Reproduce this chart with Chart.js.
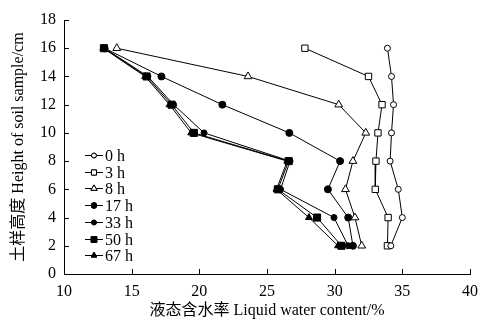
<!DOCTYPE html>
<html lang="zh-CN">
<head>
<meta charset="UTF-8">
<title>土样液态含水率剖面</title>
<script src="https://cdn.jsdelivr.net/npm/chart.js"></script>
<style>
    html, body { margin: 0; padding: 0; background: #fff; }
    #wrap { width: 486px; height: 323px; }
</style>
</head>
<body>
<div id="wrap"><canvas id="profileChart"></canvas></div>
<script>
    // Heights of soil sample (cm), top to bottom
    const heights = [16, 14, 12, 10, 8, 6, 4, 2];

    // Liquid water content (%) for each freezing time
    const wc0h  = [33.9, 34.2, 34.35, 34.2, 34.1, 34.7, 35.0, 34.15];
    const wc3h  = [27.8, 32.5, 33.5, 33.2, 33.05, 33.0, 33.95, 33.9];
    const wc8h  = [13.9, 23.6, 30.3, 32.3, 31.35, 30.8, 31.5, 32.0];
    const wc17h = [13.0, 17.2, 21.7, 26.65, 30.4, 29.5, 31.0, 31.35];
    const wc33h = [13.0, 16.2, 18.1, 20.35, 26.7, 26.0, 29.95, 31.0];
    const wc50h = [12.95, 16.1, 17.95, 19.6, 26.6, 25.8, 28.7, 30.5];
    const wc67h = [12.9, 16.0, 17.8, 19.4, 26.5, 25.7, 28.1, 30.25];

    const seriesLabels = ['0 h', '3 h', '8 h', '17 h', '33 h', '50 h', '67 h'];
    const xTicks = [10, 15, 20, 25, 30, 35, 40];
    const yTicks = [0, 2, 4, 6, 8, 10, 12, 14, 16, 18];

    const serif = '"Liberation Serif", "Times New Roman", "Noto Sans CJK SC", serif';

    // marker styles: [pointStyle, radius, filled]
    const markers = [
        ['circle', 3, false],
        ['rect', 4.5, false],
        ['triangle', 4.5, false],
        ['circle', 3.5, true],
        ['circle', 3, true],
        ['rect', 5, true],
        ['triangle', 4, true]
    ];

    const allSeries = [wc0h, wc3h, wc8h, wc17h, wc33h, wc50h, wc67h];

    const datasets = allSeries.map((vals, i) => ({
        label: seriesLabels[i],
        data: heights.map((h, k) => ({ x: vals[k], y: h })),
        showLine: true,
        borderColor: '#000',
        borderWidth: 1,
        pointStyle: markers[i][0],
        pointRadius: markers[i][1],
        pointBorderWidth: 1,
        pointBorderColor: '#000',
        pointBackgroundColor: markers[i][2] ? '#000' : '#fff'
    }));

    // inward tick marks on both axes
    const inwardTicks = {
        id: 'inwardTicks',
        afterDraw(chart) {
            const { ctx, scales: { x, y }, chartArea } = chart;
            ctx.save();
            ctx.strokeStyle = '#000';
            ctx.lineWidth = 1;
            ctx.beginPath();
            xTicks.forEach(v => {
                const px = Math.round(x.getPixelForValue(v)) + 0.5;
                ctx.moveTo(px, chartArea.bottom);
                ctx.lineTo(px, chartArea.bottom - 5);
            });
            yTicks.forEach(v => {
                const py = Math.round(y.getPixelForValue(v)) + 0.5;
                ctx.moveTo(chartArea.left, py);
                ctx.lineTo(chartArea.left + 5, py);
            });
            ctx.stroke();
            ctx.restore();
        }
    };

    // legend inside plot: short line + marker + label
    const innerLegend = {
        id: 'innerLegend',
        afterDraw(chart) {
            const { ctx } = chart;
            const x0 = 85, x1 = 103, top = 155, step = 16.7;
            ctx.save();
            ctx.font = '16px ' + serif;
            ctx.textBaseline = 'middle';
            ctx.fillStyle = '#000';
            chart.data.datasets.forEach((ds, i) => {
                const yy = Math.round(top + i * step) + 0.5;
                ctx.strokeStyle = '#000';
                ctx.lineWidth = 1;
                ctx.beginPath();
                ctx.moveTo(x0, yy);
                ctx.lineTo(x1, yy);
                ctx.stroke();
                Chart.helpers.drawPoint(ctx, {
                    pointStyle: ds.pointStyle,
                    radius: ds.pointRadius * 0.8,
                    borderWidth: 1,
                    rotation: 0
                }, (x0 + x1) / 2, yy);
                ctx.fillStyle = ds.pointBackgroundColor;
                ctx.fill();
                ctx.stroke();
                ctx.fillStyle = '#000';
                ctx.fillText(ds.label, x1 + 2, yy + 1);
            });
            ctx.restore();
        }
    };

    new Chart(document.getElementById('profileChart'), {
        type: 'scatter',
        data: { datasets },
        options: {
            responsive: true,
            maintainAspectRatio: false,
            animation: false,
            layout: { padding: { top: 20, right: 13, left: 0, bottom: 0 } },
            plugins: {
                legend: { display: false },
                tooltip: { enabled: false }
            },
            scales: {
                x: {
                    type: 'linear',
                    min: 10,
                    max: 40,
                    afterBuildTicks: s => { s.ticks = xTicks.map(v => ({ value: v })); },
                    afterFit: s => { s.height = 49; },
                    grid: { display: true, drawOnChartArea: false, drawTicks: false, color: '#000' },
                    border: { display: true, color: '#000', width: 1 },
                    ticks: { color: '#000', padding: 8, font: { family: serif, size: 16 } },
                    title: {
                        display: true,
                        text: '液态含水率 Liquid water content/%',
                        color: '#000',
                        padding: { top: 0, bottom: 3 },
                        font: { family: serif, size: 16 }
                    }
                },
                y: {
                    type: 'linear',
                    min: 0,
                    max: 18,
                    afterBuildTicks: s => { s.ticks = yTicks.map(v => ({ value: v })); },
                    afterFit: s => { s.width = 64; },
                    grid: { display: true, drawOnChartArea: false, drawTicks: false, color: '#000' },
                    border: { display: true, color: '#000', width: 1 },
                    ticks: { color: '#000', padding: 8, font: { family: serif, size: 16 } },
                    title: {
                        display: true,
                        text: '土样高度 Height of soil sample/cm',
                        color: '#000',
                        padding: { top: 9, bottom: 0 },
                        font: { family: serif, size: 16 }
                    }
                }
            }
        },
        plugins: [inwardTicks, innerLegend]
    });
</script>
</body>
</html>
